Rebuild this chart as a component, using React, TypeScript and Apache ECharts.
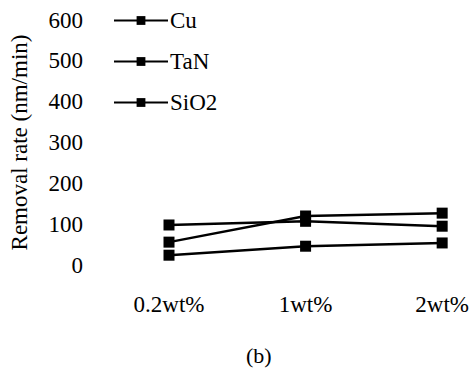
import React, { useEffect, useRef } from "react";
import * as echarts from "echarts";

const categories = ["0.2wt%", "1wt%", "2wt%"];
const cuValues = [56, 120, 127];
const tanValues = [98, 107, 95];
const sio2Values = [24, 46, 54];
const seriesNames = ["Cu", "TaN", "SiO2"];
const yTicks = { min: 0, max: 600, interval: 100 };

const FONT = "Liberation Serif";

export default function App() {
  const ref = useRef<HTMLDivElement>(null);
  useEffect(() => {
    if (!ref.current) return;
    const chart = echarts.init(ref.current, null, { renderer: "svg" });
    const mk = (name: string, data: number[]) => ({
      name,
      type: "line",
      data,
      symbol: "rect",
      symbolSize: 11,
      lineStyle: { color: "#000", width: 2.5 },
      itemStyle: { color: "#000" },
    });
    chart.setOption({
      animation: false,
      backgroundColor: "#fff",
      textStyle: { fontFamily: FONT, color: "#000" },
      grid: { left: 168, right: 29, top: 20, bottom: 105 },
      legend: {
        orient: "vertical",
        left: 113,
        top: 9,
        padding: 0,
        itemWidth: 54,
        itemHeight: 11,
        itemGap: 18,
        textStyle: { fontFamily: FONT, fontSize: 23, color: "#000", lineHeight: 23, padding: [0, 0, 0, -3] },
        data: seriesNames,
      },
      xAxis: {
        type: "category",
        data: categories,
        boundaryGap: false,
        axisLine: { show: false },
        axisTick: { show: false },
        splitLine: { show: false },
        axisLabel: { fontFamily: FONT, fontSize: 23, color: "#000", margin: 28 },
      },
      yAxis: {
        type: "value",
        min: yTicks.min,
        max: yTicks.max,
        interval: yTicks.interval,
        name: "Removal rate (nm/min)",
        nameLocation: "middle",
        nameGap: 138,
        nameTextStyle: { fontFamily: FONT, fontSize: 23, color: "#000" },
        axisLine: { show: false },
        axisTick: { show: false },
        splitLine: { show: false },
        axisLabel: { fontFamily: FONT, fontSize: 23, color: "#000", margin: 86 },
      },
      graphic: [
        {
          type: "text",
          left: 246,
          top: 344,
          style: { text: "(b)", fontFamily: FONT, fontSize: 22, fill: "#000" },
        },
      ],
      series: [
        mk(seriesNames[0], cuValues),
        mk(seriesNames[1], tanValues),
        mk(seriesNames[2], sio2Values),
      ],
    });
    return () => chart.dispose();
  }, []);
  return (
    <div
      ref={ref}
      style={{ position: "absolute", left: 0, top: 0, width: 472, height: 370 }}
    />
  );
}
